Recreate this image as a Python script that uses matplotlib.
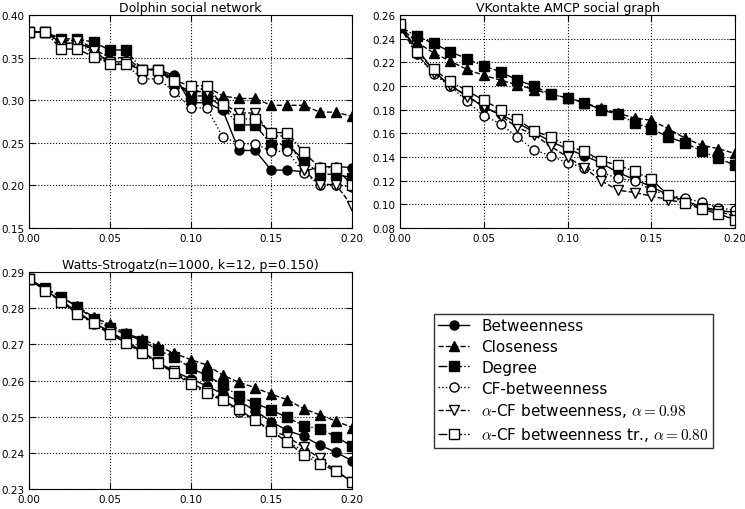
import matplotlib
matplotlib.use("Agg")
import matplotlib.pyplot as plt
import numpy as np

plt.rcParams['mathtext.fontset'] = 'cm'

fractions = [i / 100 for i in range(21)]

# dolphin social network
dolphin_betw = [0.38, 0.38, 0.367, 0.367, 0.36, 0.342, 0.342, 0.336, 0.336, 0.329, 0.297,
                0.297, 0.288, 0.241, 0.241, 0.218, 0.218, 0.216, 0.222, 0.222, 0.221]
dolphin_clos = [0.38, 0.38, 0.372, 0.372, 0.36, 0.35, 0.35, 0.336, 0.336, 0.32, 0.307,
                0.316, 0.305, 0.302, 0.302, 0.294, 0.294, 0.294, 0.286, 0.286, 0.281]
dolphin_deg = [0.38, 0.38, 0.372, 0.372, 0.368, 0.359, 0.359, 0.336, 0.336, 0.325, 0.305,
               0.305, 0.292, 0.271, 0.271, 0.248, 0.248, 0.230, 0.213, 0.213, 0.209]
dolphin_cf = [0.38, 0.38, 0.365, 0.368, 0.355, 0.342, 0.342, 0.325, 0.325, 0.31, 0.291,
              0.291, 0.257, 0.249, 0.249, 0.240, 0.240, 0.215, 0.201, 0.201, 0.198]
dolphin_acf = [0.38, 0.38, 0.370, 0.370, 0.358, 0.345, 0.345, 0.336, 0.336, 0.32, 0.31,
               0.31, 0.296, 0.285, 0.285, 0.258, 0.258, 0.218, 0.201, 0.201, 0.176]
dolphin_acftr = [0.38, 0.38, 0.36, 0.36, 0.351, 0.343, 0.343, 0.336, 0.336, 0.323, 0.317,
                 0.317, 0.294, 0.278, 0.278, 0.262, 0.262, 0.239, 0.221, 0.221, 0.200]

# vkontakte amcp
vk_betw = [0.25, 0.232, 0.213, 0.200, 0.192, 0.182, 0.176, 0.169, 0.161, 0.153, 0.147,
           0.141, 0.135, 0.127, 0.121, 0.115, 0.108, 0.103, 0.098, 0.095, 0.093]
vk_clos = [0.25, 0.237, 0.228, 0.221, 0.214, 0.209, 0.205, 0.201, 0.197, 0.193, 0.190,
           0.186, 0.181, 0.177, 0.173, 0.171, 0.164, 0.156, 0.150, 0.147, 0.143]
vk_deg = [0.25, 0.242, 0.236, 0.229, 0.223, 0.217, 0.212, 0.205, 0.200, 0.193, 0.190,
          0.186, 0.180, 0.176, 0.169, 0.164, 0.157, 0.152, 0.145, 0.139, 0.133]
vk_cf = [0.25, 0.227, 0.210, 0.200, 0.187, 0.175, 0.168, 0.157, 0.146, 0.141, 0.135,
         0.131, 0.127, 0.122, 0.120, 0.112, 0.108, 0.105, 0.102, 0.097, 0.095]
vk_acf = [0.25, 0.227, 0.211, 0.201, 0.191, 0.183, 0.175, 0.165, 0.159, 0.149, 0.140,
          0.131, 0.120, 0.112, 0.110, 0.107, 0.104, 0.101, 0.097, 0.094, 0.090]
vk_acftr = [0.252, 0.229, 0.214, 0.204, 0.196, 0.188, 0.180, 0.172, 0.162, 0.157, 0.149,
            0.145, 0.137, 0.133, 0.128, 0.121, 0.108, 0.101, 0.096, 0.092, 0.087]

# watts-strogatz
ws_betw = [0.288, 0.285, 0.282, 0.279, 0.276, 0.2735, 0.271, 0.268, 0.265, 0.2625, 0.2605,
           0.2585, 0.2563, 0.2543, 0.2517, 0.2486, 0.2462, 0.2446, 0.2421, 0.2402, 0.2378]
ws_clos = [0.288, 0.2855, 0.283, 0.2805, 0.2775, 0.2755, 0.273, 0.2715, 0.2695, 0.2675, 0.2658,
           0.2643, 0.2615, 0.2595, 0.258, 0.2562, 0.2547, 0.2522, 0.2505, 0.2488, 0.2470]
ws_deg = [0.288, 0.2855, 0.2832, 0.2803, 0.277, 0.2745, 0.2728, 0.271, 0.2683, 0.2665, 0.2635,
          0.2614, 0.2588, 0.2556, 0.2538, 0.2518, 0.2498, 0.2475, 0.2466, 0.2445, 0.2418]
ws_cf = [0.288, 0.285, 0.2818, 0.2785, 0.2757, 0.273, 0.2705, 0.2676, 0.2648, 0.2622, 0.2592,
         0.2566, 0.2545, 0.2513, 0.249, 0.246, 0.2432, 0.2405, 0.2375, 0.235, 0.232]
ws_acf = [0.288, 0.285, 0.282, 0.2787, 0.276, 0.2733, 0.2707, 0.2678, 0.265, 0.2625, 0.2595,
          0.257, 0.2548, 0.2518, 0.249, 0.2462, 0.2445, 0.2415, 0.2385, 0.235, 0.232]
ws_acftr = [0.288, 0.2848, 0.2818, 0.2785, 0.2758, 0.2728, 0.2705, 0.2675, 0.2648, 0.262, 0.259,
            0.2565, 0.2545, 0.252, 0.249, 0.246, 0.243, 0.2395, 0.237, 0.235, 0.232]

labels = ['Betweenness', 'Closeness', 'Degree', 'CF-betweenness',
          r'$\alpha$-CF betweenness, $\alpha=0.98$',
          r'$\alpha$-CF betweenness tr., $\alpha=0.80$']
styles = [('-', 'o', 'k'), ('--', '^', 'k'), ('-.', 's', 'k'),
          (':', 'o', 'w'), ('--', 'v', 'w'), ('-.', 's', 'w')]

panels = [
    ("Dolphin social network", [dolphin_betw, dolphin_clos, dolphin_deg, dolphin_cf, dolphin_acf, dolphin_acftr],
     (0.15, 0.40), np.arange(0.15, 0.401, 0.05)),
    ("VKontakte AMCP social graph", [vk_betw, vk_clos, vk_deg, vk_cf, vk_acf, vk_acftr],
     (0.08, 0.26), np.arange(0.08, 0.261, 0.02)),
    ("Watts-Strogatz(n=1000, k=12, p=0.150)", [ws_betw, ws_clos, ws_deg, ws_cf, ws_acf, ws_acftr],
     (0.23, 0.29), np.arange(0.23, 0.291, 0.01)),
]

fig = plt.figure(figsize=(7.45, 5.1), dpi=100)
W, H = 745, 510
boxes = [(29, 16, 352, 229), (400, 16, 735, 229), (29, 273, 352, 490)]

handles = []
for (title, series, ylim, yticks), (x0, y0, x1, y1) in zip(panels, boxes):
    ax = fig.add_axes([x0 / W, 1 - y1 / H, (x1 - x0) / W, (y1 - y0) / H])
    for vals, lab, (ls, mk, fc) in zip(series, labels, styles):
        h, = ax.plot(fractions, vals, linestyle=ls, marker=mk, color='k', mfc=fc, mec='k',
                     markersize=6.5, linewidth=1, label=lab)
        if len(handles) < 6:
            handles.append(h)
    ax.set_xlim(0, 0.20)
    ax.set_ylim(*ylim)
    ax.set_xticks(np.arange(0, 0.201, 0.05))
    ax.set_yticks(yticks)
    ax.xaxis.set_major_formatter(matplotlib.ticker.FormatStrFormatter('%.2f'))
    ax.yaxis.set_major_formatter(matplotlib.ticker.FormatStrFormatter('%.2f'))
    ax.tick_params(labelsize=7.5, direction='in', length=4, top=True, right=True)
    ax.grid(True, linestyle=':', color='k', linewidth=0.8)
    ax.set_title(title, fontsize=9, pad=3)

fig.legend(handles, labels, loc='upper left', bbox_to_anchor=(426 / W, 1 - 307 / H),
           fontsize=11, frameon=True, fancybox=False, edgecolor='k', handlelength=2.0,
           borderpad=0.3, labelspacing=0.38, handletextpad=0.8)

plt.savefig('out.png', dpi=100)
